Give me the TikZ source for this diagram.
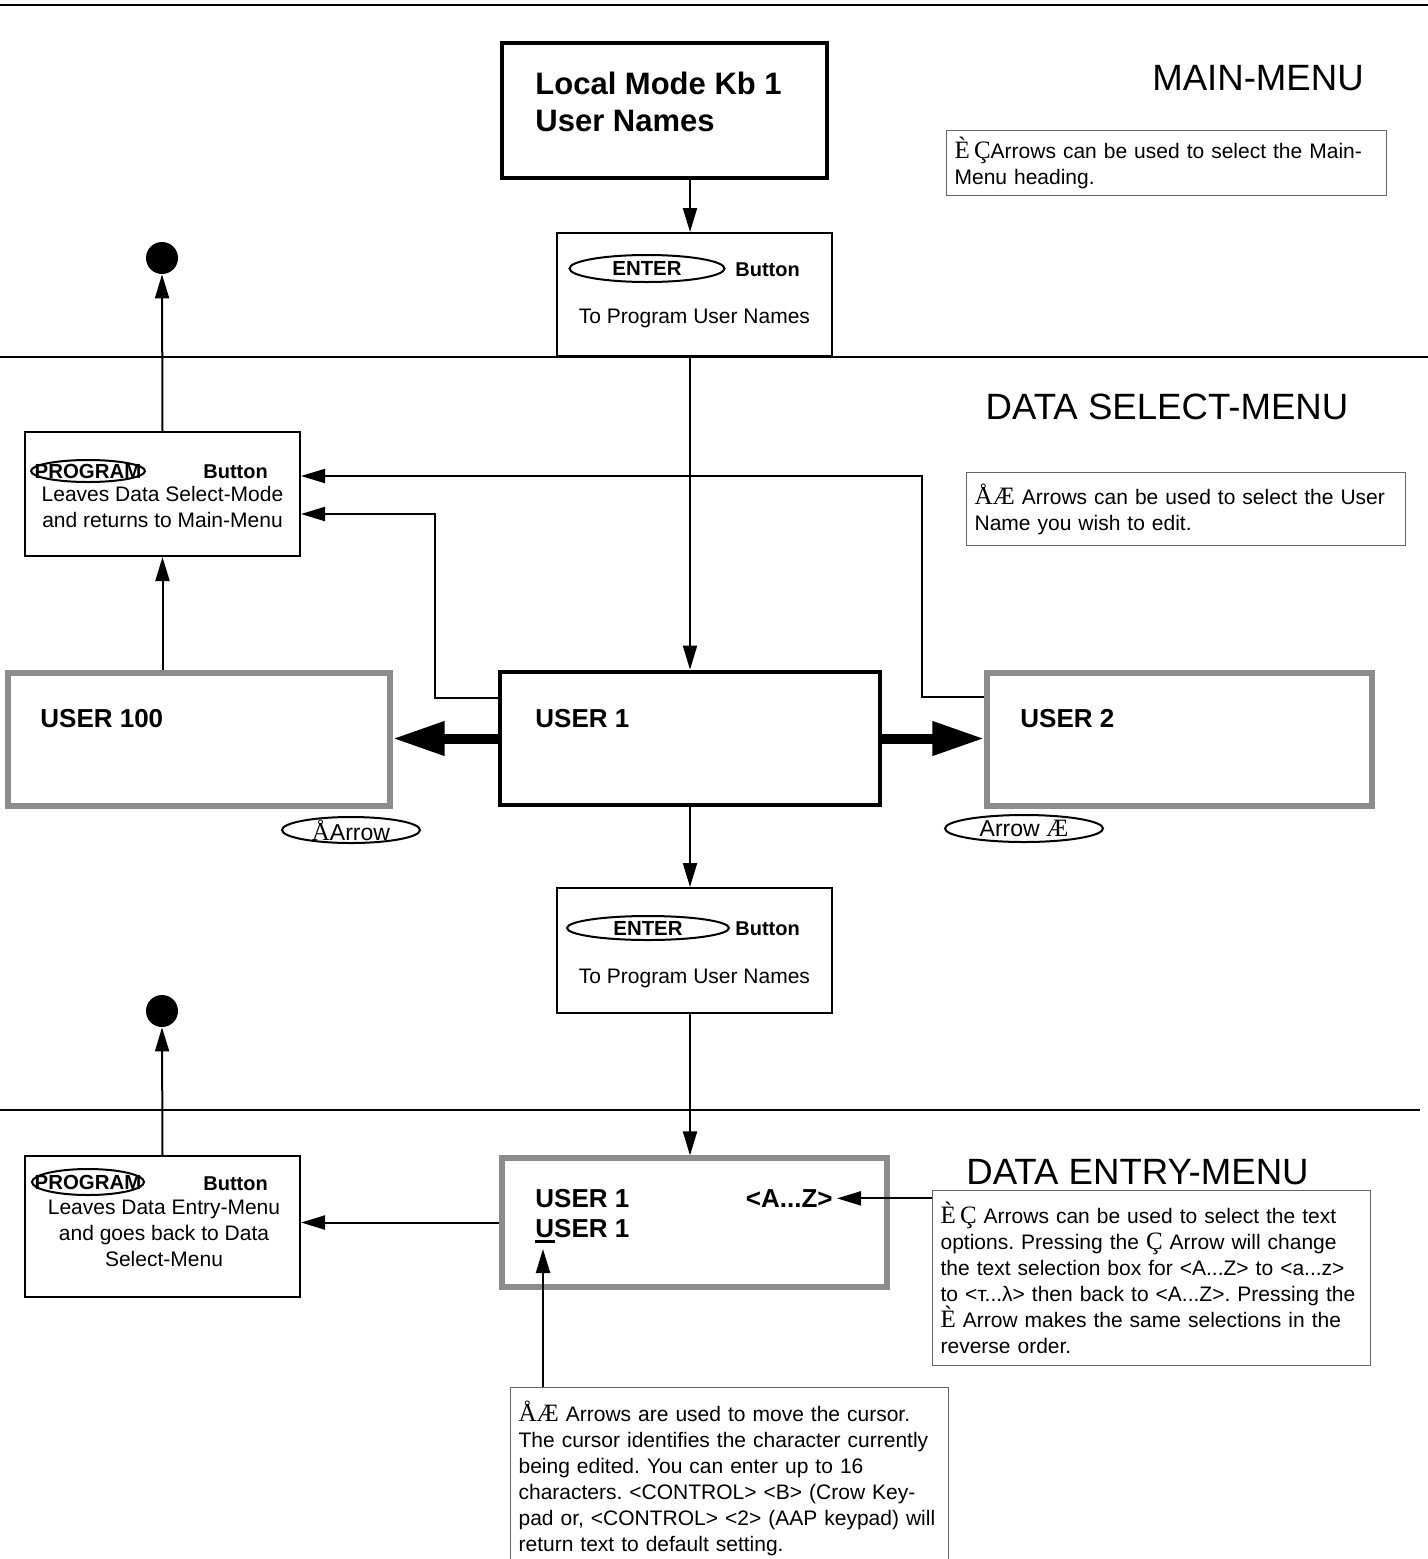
\documentclass[tikz,border=0pt]{standalone}
\usepackage{fontspec}
\setmainfont{Liberation Sans}
\newfontfamily\symfont{Liberation Serif}
\usetikzlibrary{arrows.meta,shapes.geometric}
\definecolor{framegrey}{HTML}{8C8C8C}
\definecolor{notegrey}{HTML}{666666}
\newcommand\keysym[1]{{\symfont\fontsize{12.5}{13}\selectfont #1}}
\newcommand\cursor[1]{\rlap{\rule[-3pt]{0.75em}{1.5pt}}#1}
\frenchspacing

\begin{document}
\begin{tikzpicture}[x=0.5pt,y=-0.5pt]
		\tikzset{
			rule/.style={line width=1pt},
			txt/.style={font=\fontsize{10.5}{13}\selectfont, inner sep=0pt},
			lbl/.style={font=\fontsize{13}{15}\selectfont\bfseries, inner sep=0pt},
			btntxt/.style={font=\fontsize{10}{12}\selectfont\bfseries, inner sep=0pt},
			title/.style={font=\fontsize{18.3}{22}\selectfont, inner sep=0pt},
			plainbox/.style={draw, line width=1pt, inner sep=0pt},
			heavybox/.style={draw, line width=2.4pt, inner sep=0pt},
			greybox/.style={draw=framegrey, line width=2.6pt, inner sep=0pt},
			note/.style={draw=notegrey, line width=0.6pt, anchor=north west,
				inner xsep=4pt, align=left, font=\fontsize{10.5}{13}\selectfont},
			btn/.style={draw, ellipse, line width=1pt, inner xsep=-30pt, inner ysep=-6pt,
				font=\fontsize{10.2}{12}\selectfont\bfseries},
			key/.style={draw, ellipse, line width=1pt, inner xsep=-30pt, inner ysep=-6pt,
				font=\fontsize{11.5}{13}\selectfont},
			arr/.style={line width=1pt, -{Triangle[length=12pt,width=7pt]}},
			fat/.style={line width=5pt, -{Triangle[length=26pt,width=16pt]}},
			dot/.style={circle, fill, inner sep=0pt, minimum size=16pt},
		}
		\useasboundingbox (0,0) rectangle (1428,1559);
		\clip (0,0) rectangle (1428,1559);
		% section rules
		\draw[rule] (0,5) -- (1428,5);
		\draw[rule] (0,357) -- (1428,357);
		\draw[rule] (0,1110) -- (1420,1110);
		% main menu
		\node[heavybox, minimum width=162.5pt, minimum height=67.5pt] (kb) at (664.5,110.5) {};
		\node[lbl, font=\fontsize{15.5}{18.5}\selectfont\bfseries, anchor=west, align=left] (kbtxt) at (535,101.7) {Local Mode Kb 1\\User Names};
		\node[title] (maintitle) at (1258,78) {MAIN-MENU};
		\node[note, text width=212pt, minimum height=32.5pt] (note1) at (946,130)
			{\keysym{È\,Ç}Arrows can be used to select the Main-\\Menu heading.};
		\node[plainbox, minimum width=137.5pt, minimum height=61.5pt] (enter1) at (694.5,294.5) {};
		\node[btn, minimum width=77.5pt, minimum height=13.5pt] (enter1btn) at (647,268.5) {ENTER};
		\node[btntxt, anchor=west] (enter1lbl) at (735,270) {Button};
		\node[txt] (enter1txt) at (694.5,318) {To Program User Names};
		% data select menu
		\node[title] (selecttitle) at (1167,407) {DATA SELECT-MENU};
		\node[note, text width=211.5pt, minimum height=36.5pt] (note2) at (966,472)
			{\keysym{ÅÆ} Arrows can be used to select the User\\Name you wish to edit.};
		\node[dot] (dot1) at (162,258) {};
		\node[plainbox, minimum width=137.5pt, minimum height=62pt] (prog1) at (162.5,494) {};
		\node[btn, minimum width=57pt, minimum height=11pt] (prog1btn) at (88,471) {PROGRAM};
		\node[btntxt, anchor=west] (prog1lbl) at (203,472) {Button};
		\node[txt, align=center] (prog1txt) at (162.5,507) {Leaves Data Select-Mode\\and returns to Main-Menu};
		\node[greybox, minimum width=191pt, minimum height=66.5pt] (usr100) at (199,739.5) {};
		\node[lbl, anchor=base west] (usr100txt) at (40,727.3) {USER 100};
		\node[heavybox, minimum width=190pt, minimum height=66.5pt] (usr1) at (690,738.5) {};
		\node[lbl, anchor=base west] (usr1txt) at (535,727.3) {USER 1};
		\node[greybox, minimum width=192.5pt, minimum height=66.5pt] (usr2) at (1179.5,739.5) {};
		\node[lbl, anchor=base west] (usr2txt) at (1020,727.3) {USER 2};
		\node[key, minimum width=69pt, minimum height=13pt] (leftkey) at (351,830) {\keysym{Å}Arrow};
		\node[key, minimum width=79pt, minimum height=13.5pt] (rightkey) at (1024,828.5) {Arrow \keysym{Æ}};
		\node[plainbox, minimum width=137.5pt, minimum height=62.5pt] (enter2) at (694.5,950.5) {};
		\node[btn, minimum width=81pt, minimum height=12pt] (enter2btn) at (648,928) {ENTER};
		\node[btntxt, anchor=west] (enter2lbl) at (735,929) {Button};
		\node[txt] (enter2txt) at (694.5,978) {To Program User Names};
		% data entry menu
		\node[title] (entrytitle) at (1137.5,1172) {DATA ENTRY-MENU};
		\node[dot] (dot2) at (162,1011) {};
		\node[plainbox, minimum width=137.5pt, minimum height=70.5pt] (prog2) at (162.5,1226.5) {};
		\node[btn, minimum width=56pt, minimum height=13pt] (prog2btn) at (88,1182) {PROGRAM};
		\node[btntxt, anchor=west] (prog2lbl) at (203,1184) {Button};
		\node[txt, align=center] (prog2txt) at (164,1233) {Leaves Data Entry-Menu\\and goes back to Data\\Select-Menu};
		\node[greybox, minimum width=192.5pt, minimum height=64.5pt] (entry) at (694.5,1222.5) {};
		\node[lbl, anchor=base west] (entryl1) at (535,1207.3) {USER 1};
		\node[lbl, anchor=base east] (az) at (833,1207.3) {<A...Z>};
		\node[lbl, anchor=base west] (entryl2) at (535,1237.3) {\cursor{U}SER 1};
		\node[note, text width=211pt, minimum height=87.5pt] (note3) at (932,1190)
			{\keysym{È\,Ç} Arrows can be used to select the text\\
			options. Pressing the \keysym{Ç} Arrow will change\\
			the text selection box for <A...Z> to <a...z>\\
			to <т...λ> then back to <A...Z>. Pressing the\\
			\keysym{È} Arrow makes the same selections in the\\
			reverse order.};
		\node[note, text width=211pt, minimum height=91pt] (note4) at (510,1387)
			{\keysym{ÅÆ} Arrows are used to move the cursor.\\
			The cursor identifies the character currently\\
			being edited. You can enter up to 16\\
			characters. <CONTROL> <B> (Crow Key-\\
			pad or, <CONTROL> <2> (AAP keypad) will\\
			return text to default setting.};
		\coordinate (cur) at (543,1249);
		% connectors
		\draw[arr] (kb.south -| usr1) -- (enter1.north -| usr1);
		\draw[arr] (enter1.south -| usr1) -- (usr1.north);
		\draw[arr] (prog1.north) -- (dot1.south);
		\draw[arr] (usr100.north -| prog1) -- (prog1.south);
		\draw[arr] ([yshift=-14pt]usr1.north west) -- ++(-63,0) |- ([yshift=-10pt]prog1.east);
		\draw[arr] ([yshift=-13.5pt]usr2.north west) -- ++(-62,0) |- ([yshift=9pt]prog1.east);
		\draw[fat] (usr1.west) -- (usr1.west -| usr100.east);
		\draw[fat] (usr1.east) -- (usr1.east -| usr2.west);
		\draw[arr] (usr1.south) -- (enter2.north -| usr1);
		\draw[arr] (enter2.south -| usr1) -- (entry.north -| usr1);
		\draw[arr] (prog2.north) -- (dot2.south);
		\draw[arr] (entry.west) -- (entry.west -| prog2.east);
		\draw[arr] (note3.west |- az) -- ([xshift=2pt]az.east);
		\draw[arr] (note4.north -| cur) -- (cur);
\end{tikzpicture}
\end{document}
